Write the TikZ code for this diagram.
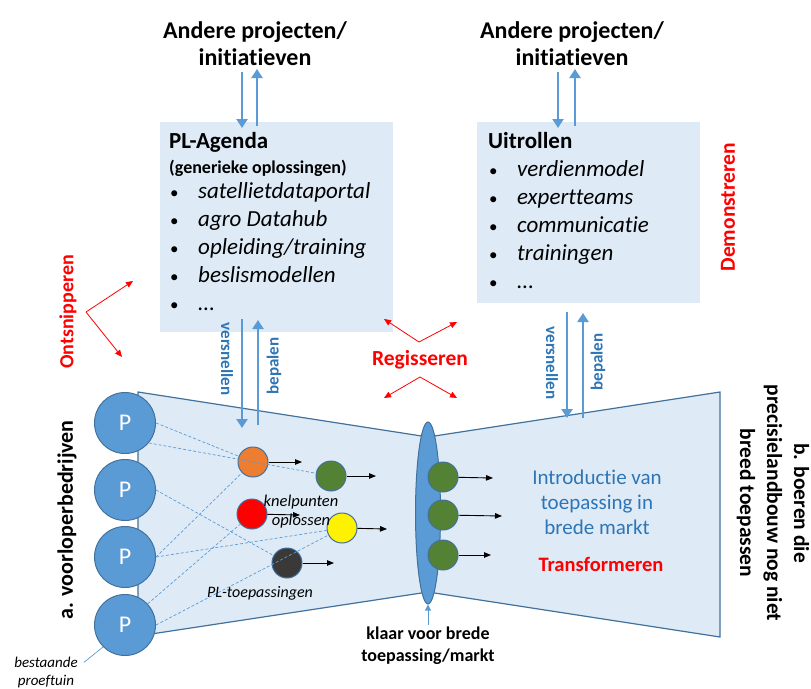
\documentclass[tikz,border=0pt]{standalone}
\usepackage{fontspec}
\setmainfont{Carlito}[Ligatures=NoCommon]
\usetikzlibrary{positioning,arrows.meta,shapes.geometric}
\definecolor{boxblue}{HTML}{DEEBF7}
\definecolor{edgeblue}{HTML}{41719C}
\definecolor{midblue}{HTML}{5B9BD5}
\definecolor{textblue}{HTML}{2E75B6}
\definecolor{orange1}{HTML}{ED7D31}
\definecolor{green1}{HTML}{548235}
\definecolor{dark1}{HTML}{3B3838}
\newcommand\fsz[2]{\fontsize{#1}{#2}\selectfont}
\newcommand\itm[1]{\makebox[29pt][l]{\hspace{1pt}\upshape\fsz{17}{17}\textbullet}#1}
\tikzset{
  panel/.style={fill=boxblue,inner sep=0pt,anchor=north west},
  funnel/.style={fill=boxblue,draw=edgeblue,line width=1.2pt,line join=miter},
  head/.style={font=\fsz{24}{27}\bfseries,align=center,inner sep=0pt},
  title/.style={anchor=base west,inner sep=0pt,font=\fsz{23}{24}\bfseries},
  sub/.style={anchor=base west,inner sep=0pt,font=\fsz{18}{18}\bfseries},
  item/.style={anchor=base west,inner sep=0pt,font=\fsz{23}{24}\itshape},
  pbig/.style={circle,draw=edgeblue,line width=1pt,fill=midblue,minimum size=61pt,inner sep=0pt,text=white,font=\fsz{24}{24}},
  dot/.style={circle,draw=edgeblue,line width=1pt,minimum size=30pt,inner sep=0pt},
  flow/.style={draw=midblue,line width=2.6pt,-{Triangle[width=11pt,length=9pt]}},
  thinflow/.style={draw=midblue,line width=1pt,-{Triangle[width=6pt,length=6pt]}},
  redarr/.style={draw=red,line width=0.8pt,-{Triangle[width=6pt,length=7pt]}},
  blk/.style={draw=black,line width=0.9pt,-{Triangle[width=5.5pt,length=7pt]}},
  link/.style={draw=midblue,line width=0.7pt,dash pattern=on 3pt off 2pt},
  rlab/.style={font=\fsz{21.5}{24}\bfseries,text=red,inner sep=0pt},
  vlab/.style={font=\fsz{17}{19}\bfseries,text=textblue,inner sep=0pt},
  side/.style={font=\fsz{21.5}{27}\bfseries,align=center,inner sep=0pt},
  note/.style={font=\fsz{16.5}{19}\itshape,align=center,inner sep=0pt}
}
\begin{document}
\begin{tikzpicture}[x=1pt,y=-1pt]
\useasboundingbox (0,0) rectangle (811,688);

\draw[funnel] (138,392) -- (428,437) -- (720,392) -- (720,637) -- (428,592) -- (138,636) -- cycle;

\path
(160,122) node[panel,minimum width=233pt,minimum height=210pt](agenda){}
(477,122) node[panel,minimum width=223pt,minimum height=181pt](uitrol){}
(255,44) node[head](andL){Andere projecten/\\initiatieven}
(572,44) node[head](andR){Andere projecten/\\initiatieven};

\path
(169,148) node[title](agT){PL-Agenda}
(169,173) node[sub](agS){(generieke oplossingen)}
(169,198) node[item](ag1){\itm{satellietdataportal}}
(169,226) node[item](ag2){\itm{agro Datahub}}
(169,254) node[item](ag3){\itm{opleiding/training}}
(169,282) node[item](ag4){\itm{beslismodellen}}
(169,310) node[item](ag5){\itm{\upshape\dots}};

\path
(488,148) node[title](uiT){Uitrollen}
(488,176) node[item](ui1){\itm{verdienmodel}}
(488,204) node[item](ui2){\itm{expertteams}}
(488,232) node[item](ui3){\itm{communicatie}}
(488,260) node[item](ui4){\itm{trainingen}}
(488,288) node[item](ui5){\itm{\upshape\dots}};

\path
(125,423) node[pbig](p1){P}
(125,490) node[pbig](p2){P}
(125,557) node[pbig](p3){P}
(125,625) node[pbig](p4){P}
(253,462) node[dot,fill=orange1](or){}
(331,476) node[dot,fill=green1](gn){}
(252,514) node[dot,fill=red](rd){}
(342,528) node[dot,fill=yellow](ye){}
(287,563) node[dot,fill=dark1](dk){}
(428,513) node[ellipse,draw=edgeblue,fill=midblue,line width=1pt,minimum width=25pt,minimum height=182pt,inner sep=0pt](neck){}
(443,477) node[dot,fill=green1](g1){}
(443,515) node[dot,fill=green1](g2){}
(443,555) node[dot,fill=green1](g3){};

\draw[link](p1.east) -- (or);
\draw[link](p1.-40) -- (gn);
\draw[link](p2.east) -- (dk);
\draw[link](p3.east) -- (or);
\draw[link](p3.east) -- (ye);
\draw[link](p4.43) -- (rd);
\draw[link](p4.east) -- (ye);

\path
(302,462) coordinate (or-x)
(376,476) coordinate (gn-x)
(300,515) coordinate (rd-x)
(387,529) coordinate (ye-x)
(334,563) coordinate (dk-x)
(493,478) coordinate (g1-x)
(502,516) coordinate (g2-x)
(491,555) coordinate (g3-x);
\draw[blk](or) -- (or-x);
\draw[blk](gn) -- (gn-x);
\draw[blk](rd) -- (rd-x);
\draw[blk](ye) -- (ye-x);
\draw[blk](dk) -- (dk-x);
\draw[blk](g1) -- (g1-x);
\draw[blk](g2) -- (g2-x);
\draw[blk](g3) -- (g3-x);

\path
(301,512) node[note](knel){knelpunten\\oplossen}
(260,593) node[note,font=\fsz{16}{19}\itshape](pltoe){PL-toepassingen}
(46,672) node[note,font=\fsz{15}{18}\itshape](bes){bestaande\\proeftuin}
(428,646) node[font=\fsz{18}{22}\bfseries,align=center,inner sep=0pt](klaar){klaar voor brede\\toepassing/markt}
(597,502) node[font=\fsz{21}{25},text=textblue,align=center](intro){Introductie van\\toepassing in\\brede markt}
(601,564) node[rlab,font=\fsz{20.5}{24}\bfseries](trans){Transformeren}
(420,360) node[rlab](regie){Regisseren}
(68,312) node[rlab,font=\fsz{20}{24}\bfseries,rotate=90](onts){Ontsnipperen}
(728,207) node[rlab,rotate=90](demo){Demonstreren}
(67,520) node[side,font=\fsz{22}{27}\bfseries,rotate=90](voorl){a. voorloperbedrijven}
(773,503) node[side,rotate=-90](boer){b. boeren die\\precisielandbouw nog niet\\breed toepassen}
(227,359) node[vlab,rotate=-90](vL){versnellen}
(274,366) node[vlab,rotate=90](bL){bepalen}
(552,363) node[vlab,rotate=-90](vR){versnellen}
(598,362) node[vlab,rotate=90](bR){bepalen};

\draw[draw=midblue,line width=0.7pt](p4.south west) -- ([xshift=6pt,yshift=-6pt]bes.north east);
\draw[thinflow]([yshift=2pt]klaar.north) -- (neck.south);

\path
(242,72) coordinate (tl1) (242,128) coordinate (tl2)
(257,126) coordinate (tl3) (257,69) coordinate (tl4)
(558,72) coordinate (tr1) (558,128) coordinate (tr2)
(575,126) coordinate (tr3) (575,69) coordinate (tr4)
(242,319) coordinate (ml1) (242,428) coordinate (ml2)
(258,425) coordinate (ml3) (258,320) coordinate (ml4)
(567,312) coordinate (mr1) (567,418) coordinate (mr2)
(583,418) coordinate (mr3) (583,313) coordinate (mr4);
\draw[flow](tl1) -- (tl2);
\draw[flow](tl3) -- (tl4);
\draw[flow](tr1) -- (tr2);
\draw[flow](tr3) -- (tr4);
\draw[flow](ml1) -- (ml2);
\draw[flow](ml3) -- (ml4);
\draw[flow](mr1) -- (mr2);
\draw[flow](mr3) -- (mr4);

\path
(86,312) coordinate (on0) (133,281) coordinate (on1) (122,357) coordinate (on2)
(419,342) coordinate (re0) (384,319) coordinate (re1) (457,322) coordinate (re2)
(420,377) coordinate (re3) (384,398) coordinate (re4) (457,398) coordinate (re5);
\draw[redarr](on0) -- (on1);
\draw[redarr](on0) -- (on2);
\draw[redarr](re0) -- (re1);
\draw[redarr](re0) -- (re2);
\draw[redarr](re3) -- (re4);
\draw[redarr](re3) -- (re5);
\end{tikzpicture}
\end{document}
